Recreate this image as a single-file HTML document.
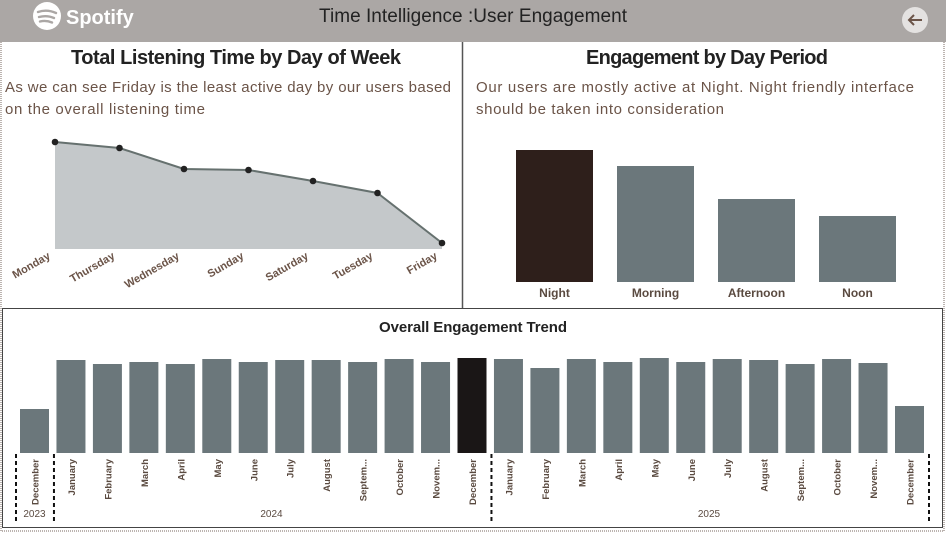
<!DOCTYPE html>
<html><head><meta charset="utf-8"><style>
html,body{margin:0;padding:0;background:#fff;}
svg{display:block;font-family:"Liberation Sans",sans-serif;}
</style></head><body>
<svg id="root" width="946" height="535" viewBox="0 0 946 535" xmlns="http://www.w3.org/2000/svg">
<rect x="0" y="0" width="946" height="535" fill="#fff"/>
<rect x="1" y="1" width="943" height="530" fill="none" stroke="#7a6a60" stroke-dasharray="1,1"/>
<rect x="0" y="0" width="946" height="42" fill="#aba7a5"/>
<g>
<circle cx="47" cy="16" r="14" fill="#fff"/>
<path d="M38 12 q9 -3 18 1 M39 17 q8 -2 15 1 M40 21.5 q6 -1.5 12 1" stroke="#aba7a5" stroke-width="2.4" fill="none" stroke-linecap="round"/>
<text x="66" y="24" font-size="20" font-weight="bold" fill="#fff">Spotify</text>
</g>
<text x="473" y="22" font-size="19" fill="#222" text-anchor="middle" textLength="308">Time Intelligence :User Engagement</text>
<g>
<circle cx="915" cy="20" r="13" fill="#e4e2e1"/>
<path d="M922 20 H909 M914 15 L909 20 L914 25" stroke="#6b5448" stroke-width="2" fill="none"/>
</g>
<line x1="462.5" y1="42" x2="462.5" y2="308" stroke="#555" stroke-width="1.5"/>
<rect x="2.5" y="308.5" width="940" height="219" fill="none" stroke="#444"/>

<text x="236" y="64" font-size="20" font-weight="bold" fill="#222" text-anchor="middle" textLength="330">Total Listening Time by Day of Week</text>
<text x="5" y="92" font-size="15" fill="#6b5448" textLength="446">As we can see Friday is the least active day by our users based</text>
<text x="5" y="114" font-size="15" fill="#6b5448" textLength="200">on the overall listening time</text>
<g id="lineChart"></g>

<text x="707" y="64" font-size="20" font-weight="bold" fill="#222" text-anchor="middle" textLength="242">Engagement by Day Period</text>
<text x="476" y="92" font-size="15" fill="#6b5448" textLength="438">Our users are mostly active at Night. Night friendly interface</text>
<text x="476" y="114" font-size="15" fill="#6b5448" textLength="248">should be taken into consideration</text>
<g id="periodChart"></g>

<text x="473" y="332" font-size="15" font-weight="bold" fill="#222" text-anchor="middle" textLength="188">Overall Engagement Trend</text>
<g id="trendChart"></g>
</svg>
<script>
const days = ["Monday","Thursday","Wednesday","Sunday","Saturday","Tuesday","Friday"];
const dayValues = [107,101,80,79,68,56,6];
const periods = ["Night","Morning","Afternoon","Noon"];
const periodValues = [132,116,83,66];
const months = ["December","January","February","March","April","May","June","July","August","Septem...","October","Novem...","December","January","February","March","April","May","June","July","August","Septem...","October","Novem...","December"];
const monthValues = [44,93,89,91,89,94,91,93,93,91,94,91,95,94,85,94,91,95,91,94,93,89,94,90,47];
const yearLabels = ["2023","2024","2025"];
const yearSpans = [[0,0],[1,12],[13,24]];

const NS="http://www.w3.org/2000/svg";
function mk(tag,attrs,parent){const e=document.createElementNS(NS,tag);for(const k in attrs)e.setAttribute(k,attrs[k]);parent.appendChild(e);return e;}

// line chart
(function(){
  const g=document.getElementById('lineChart');
  const x0=55,x1=442,base=249,top=142;
  const max=Math.max(...dayValues);
  const xs=i=>x0+i*(x1-x0)/(days.length-1);
  const ys=v=>base-(v/max)*(base-top);
  let pts=dayValues.map((v,i)=>xs(i)+","+ys(v));
  const area=mk('polygon',{points:x0+","+base+" "+pts.join(" ")+" "+x1+","+base,fill:"#c4c8ca"},g);
  
  
  const line=mk('polyline',{points:pts.join(" "),fill:"none",stroke:"#66716f","stroke-width":2},g);
  
  
  dayValues.forEach((v,i)=>{
    const c=mk('circle',{cx:xs(i),cy:ys(v),r:3.3,fill:"#222"},g);
    
    
    const t=mk('text',{x:xs(i)-4,y:258,"font-size":11,"font-weight":"bold",fill:"#6b5448","text-anchor":"end",transform:`rotate(-30 ${xs(i)-4} 258)`},g);
    t.textContent=days[i];
    
    
  });
})();

// period bars
(function(){
  const g=document.getElementById('periodChart');
  const base=282,h=132,max=Math.max(...periodValues);
  periodValues.forEach((v,i)=>{
    const x=516+i*101,bh=v/max*h;
    const r=mk('rect',{x:x,y:base-bh,width:77,height:bh,fill:i===0?"#2e1f1b":"#6b777b"},g);
    
    
    const t=mk('text',{x:x+38.5,y:297,"font-size":12,"font-weight":"bold",fill:"#5a4a40","text-anchor":"middle"},g);
    t.textContent=periods[i];
    
    
  });
})();

// trend bars
(function(){
  const g=document.getElementById('trendChart');
  const base=453,max=Math.max(...monthValues),h=95,step=(895-20)/24,w=29;
  const maxIdx=12;
  monthValues.forEach((v,i)=>{
    const x=20+i*step,bh=v/max*h;
    const r=mk('rect',{x:x,y:base-bh,width:w,height:bh,fill:i===maxIdx?"#1a1616":"#6b777b"},g);
    
    
    const cx=x+w/2+4;
    const t=mk('text',{x:cx,y:459,"font-size":9.5,"font-weight":"bold",fill:"#5a4a40","text-anchor":"end",transform:`rotate(-90 ${cx} 459)`},g);
    t.textContent=months[i];
    
    
  });
  yearSpans.forEach((s,k)=>{
    const xa=20+s[0]*step-4, xb=20+s[1]*step+w+4;
    const t=mk('text',{x:(xa+xb)/2,y:517,"font-size":10,fill:"#5a4a40","text-anchor":"middle"},g);
    t.textContent=yearLabels[k];
    
    
  });
  const seps=[20-4,20+step*1-2.5,20+step*13-2.5,20+step*24+w+5];
  seps.forEach((x,k)=>{
    const l=mk('line',{x1:x,y1:454,x2:x,y2:523,stroke:"#111","stroke-width":2,"stroke-dasharray":"4,3"},g);
    
    
  });
})();
</script>
</body></html>
